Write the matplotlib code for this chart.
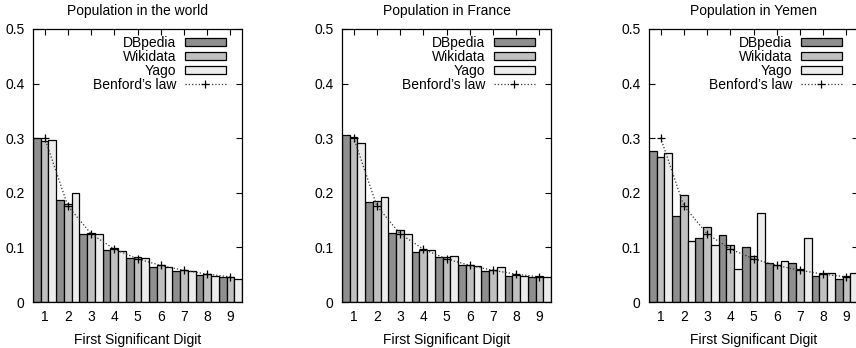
import numpy as np
import matplotlib
matplotlib.use("Agg")
import matplotlib.pyplot as plt

plt.rcParams['font.family'] = ['Liberation Sans', 'DejaVu Sans']

digits = [1, 2, 3, 4, 5, 6, 7, 8, 9]
benford = [0.301, 0.176, 0.125, 0.097, 0.079, 0.067, 0.058, 0.051, 0.046]

titles = ["Population in the world", "Population in France", "Population in Yemen"]

world_dbpedia = [0.300, 0.186, 0.125, 0.096, 0.081, 0.065, 0.056, 0.050, 0.045]
world_wikidata = [0.294, 0.179, 0.127, 0.098, 0.083, 0.067, 0.059, 0.051, 0.046]
world_yago = [0.296, 0.199, 0.124, 0.094, 0.080, 0.064, 0.056, 0.048, 0.043]

france_dbpedia = [0.306, 0.184, 0.127, 0.092, 0.082, 0.067, 0.057, 0.048, 0.045]
france_wikidata = [0.303, 0.185, 0.131, 0.096, 0.082, 0.067, 0.058, 0.049, 0.047]
france_yago = [0.291, 0.192, 0.124, 0.096, 0.084, 0.066, 0.064, 0.047, 0.045]

yemen_dbpedia = [0.276, 0.157, 0.117, 0.123, 0.101, 0.072, 0.071, 0.048, 0.043]
yemen_wikidata = [0.265, 0.196, 0.137, 0.104, 0.084, 0.067, 0.060, 0.053, 0.048]
yemen_yago = [0.272, 0.111, 0.105, 0.060, 0.163, 0.076, 0.117, 0.053, 0.053]

panels = [
    (world_dbpedia, world_wikidata, world_yago),
    (france_dbpedia, france_wikidata, france_yago),
    (yemen_dbpedia, yemen_wikidata, yemen_yago),
]

series_names = ["DBpedia", "Wikidata", "Yago"]
colors = ["#8f8f8f", "#c0c0c0", "#ececec"]

fig = plt.figure(figsize=(8.56, 3.48), dpi=100)
lefts = [33, 342, 649]
W, H = 856, 348
fs = 10

x = np.array(digits, dtype=float)
bw = 1.0 / 3
for left, title, vals in zip(lefts, titles, panels):
    ax = fig.add_axes([left / W, (H - 302) / H, 209 / W, 273 / H])
    handles = []
    for i, (v, c, name) in enumerate(zip(vals, colors, series_names)):
        b = ax.bar(x + (i - 1) * bw, v, width=bw, color=c, edgecolor="black",
                   linewidth=0.9, label=name, zorder=2)
        handles.append(b)
    ln, = ax.plot(x, benford, linestyle=":", color="#333333", linewidth=0.9,
                  marker="+", markersize=6, markeredgewidth=0.9, markeredgecolor="black",
                  label="Benford\u2019s law", zorder=3)
    handles.append(ln)
    ax.set_xlim(0.5, 9.5)
    ax.set_ylim(0, 0.5)
    ax.set_xticks(digits)
    ax.set_yticks([0, 0.1, 0.2, 0.3, 0.4, 0.5])
    ax.set_yticklabels(["0", "0.1", "0.2", "0.3", "0.4", "0.5"])
    ax.tick_params(axis="both", direction="in", length=4.5, width=0.8,
                   labelsize=fs, top=True, right=True, colors="black")
    ax.tick_params(axis="x", bottom=False, pad=6)
    ax.tick_params(axis="y", pad=6)
    for sp in ax.spines.values():
        sp.set_linewidth(0.9)
        sp.set_zorder(4)
    ax.set_title(title, fontsize=fs, pad=10)
    ax.set_xlabel("First Significant Digit", fontsize=fs, labelpad=6)
    ax.legend(handles=handles, loc="upper right", bbox_to_anchor=(0.923, 0.975),
              frameon=False, markerfirst=False,
              fontsize=fs, handlelength=2.95, handleheight=0.5, handletextpad=0.6,
              labelspacing=0.0, borderaxespad=0.0, borderpad=0.0)

fig.savefig("out.png", dpi=100)
